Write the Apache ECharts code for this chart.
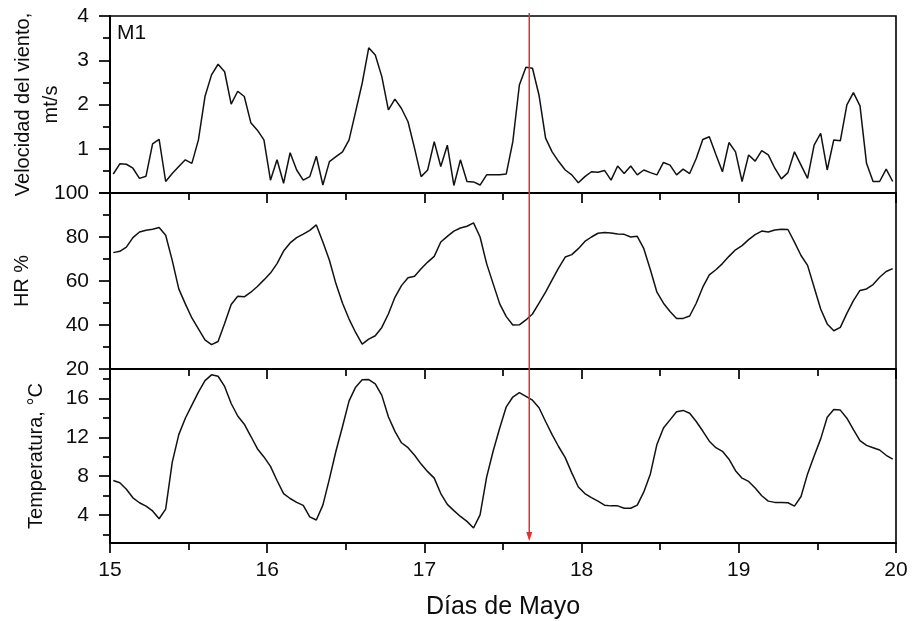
<!DOCTYPE html>
<html><head><meta charset="utf-8">
<script src="https://cdn.jsdelivr.net/npm/echarts@6/dist/echarts.min.js"></script>
<style>html,body{margin:0;padding:0;background:#fff}#c{width:912px;height:621px}</style>
</head><body><div id="c"></div>
<script>
// ---- data ----
const days = [15, 16, 17, 18, 19];
const dayTicks = [15, 16, 17, 18, 19, 20];
const hours = ['00','01','02','03','04','05','06','07','08','09','10','11','12','13','14','15','16','17','18','19','20','21','22','23'];
const timeLabels = [];
days.forEach(d => hours.forEach(h => timeLabels.push(d + ' ' + h + ':30')));

const wind = [0.43,0.66,0.65,0.56,0.33,0.38,1.11,1.21,0.26,0.44,0.60,0.75,0.67,1.20,2.18,2.67,2.91,2.74,2.01,2.30,2.18,1.59,1.42,1.20,
0.29,0.75,0.22,0.91,0.52,0.29,0.37,0.83,0.18,0.71,0.82,0.93,1.20,1.84,2.48,3.28,3.12,2.63,1.88,2.12,1.91,1.61,1.01,0.37,
0.52,1.16,0.60,1.08,0.17,0.75,0.26,0.25,0.18,0.41,0.41,0.41,0.43,1.16,2.44,2.84,2.82,2.21,1.24,0.93,0.71,0.52,0.41,0.23,
0.37,0.48,0.47,0.51,0.29,0.61,0.44,0.61,0.41,0.52,0.46,0.41,0.69,0.63,0.41,0.54,0.44,0.78,1.21,1.27,0.87,0.48,1.14,0.93,
0.26,0.86,0.72,0.96,0.86,0.56,0.32,0.46,0.93,0.63,0.33,1.08,1.35,0.52,1.20,1.18,1.99,2.27,1.97,0.67,0.26,0.26,0.54,0.26];

const humidity = [72.9,73.5,75.4,79.7,82.3,83.1,83.5,84.3,80.8,69.4,56.4,49.6,43.2,38.2,33.2,31.1,32.5,40.7,49.3,53.1,52.8,54.9,57.5,60.5,
63.6,67.9,73.6,77.3,79.7,81.3,83.0,85.5,77.7,69.4,58.7,49.9,42.7,36.6,31.3,33.6,35.1,38.9,45.0,52.6,57.9,61.5,62.2,65.6,
68.6,71.2,77.7,80.3,82.7,84.1,84.9,86.4,80.0,67.9,58.7,49.6,43.8,40.0,40.1,42.3,45.0,49.9,54.9,60.5,66.0,70.9,72.0,74.7,
78.0,80.0,81.7,82.0,81.8,81.4,81.2,80.0,80.3,74.7,65.1,54.9,49.9,46.1,43.0,43.0,44.1,49.9,57.2,62.8,65.1,67.9,71.2,74.2,
76.1,78.8,81.1,82.7,82.3,83.2,83.5,83.4,77.7,71.6,67.1,57.2,47.3,40.5,37.4,38.9,45.3,51.1,55.7,56.4,58.4,61.7,64.3,65.6];

const temperature = [7.55,7.31,6.64,5.76,5.25,4.91,4.41,3.60,4.60,9.41,12.28,13.97,15.32,16.67,17.85,18.45,18.30,17.25,15.49,14.20,13.36,12.11,10.83,9.98,
9.00,7.55,6.20,5.69,5.29,4.98,3.80,3.47,5.01,7.72,10.59,13.12,15.76,17.18,17.93,17.96,17.52,16.33,14.13,12.61,11.44,10.93,10.15,9.24,
8.46,7.79,6.20,5.08,4.44,3.84,3.33,2.65,4.00,7.89,10.59,12.96,15.15,16.16,16.61,16.23,15.83,15.05,13.63,12.28,11.03,9.91,8.33,6.88,
6.20,5.79,5.42,5.00,4.93,4.93,4.68,4.68,5.01,6.37,8.23,11.27,12.96,13.80,14.64,14.78,14.48,13.63,12.65,11.60,10.93,10.56,9.75,8.56,
7.79,7.45,6.78,5.97,5.42,5.29,5.29,5.25,4.90,5.90,8.23,10.08,11.84,14.07,14.88,14.81,13.97,12.79,11.67,11.17,10.93,10.69,10.15,9.75];

const tempMajorTicks = [4, 8, 12, 16];
const tempMinorTicks = [2, 6, 10, 14, 18];
const markerDay = 17.667;
const panelLabel = 'M1';
const yNames = ['Velocidad del viento,\nmt/s', 'HR %', 'Temperatura, °C'];
const xName = 'Días de Mayo';

// ---- chart ----
const FONT = '"Liberation Sans", Arial, sans-serif';
const chart = echarts.init(document.getElementById('c'), null, {renderer: 'canvas'});
const gridBase = {left: 110, right: 16, show: true, borderColor: '#000', borderWidth: 1.6, backgroundColor: 'transparent'};
const tickStyle = {color: '#000', width: 1.7};
const labelStyle = {color: '#0d0d0d', fontFamily: FONT, fontSize: 21};

function valueX(i) {
  return {
    type: 'value', gridIndex: i, min: 15, max: 20, interval: 1, position: 'bottom',
    axisLine: {show: true, onZero: false, lineStyle: {color: '#000', width: 2}},
    axisTick: {show: true, length: 10, lineStyle: tickStyle},
    minorTick: {show: true, splitNumber: 2, length: 7, lineStyle: tickStyle},
    splitLine: {show: false}, minorSplitLine: {show: false},
    axisLabel: Object.assign({show: i === 2, margin: 17, formatter: v => (dayTicks.indexOf(v) >= 0 ? String(v) : '')}, labelStyle),
    name: i === 2 ? xName : '', nameLocation: 'middle', nameGap: 52,
    nameTextStyle: {color: '#0d0d0d', fontFamily: FONT, fontSize: 25}
  };
}
function catX(i) {
  return {type: 'category', gridIndex: i, data: timeLabels, boundaryGap: true, show: false};
}
const yCommon = {
  axisLine: {show: true, onZero: false, lineStyle: {color: '#000', width: 2}},
  axisTick: {show: true, length: 11, lineStyle: tickStyle},
  splitLine: {show: false}, minorSplitLine: {show: false},
  nameLocation: 'middle', nameRotate: 90,
  nameTextStyle: {color: '#0d0d0d', fontFamily: FONT, fontSize: 20, lineHeight: 28}
};

const option = {
  animation: false,
  backgroundColor: '#fff',
  grid: [
    Object.assign({top: 16, height: 177}, gridBase),
    Object.assign({top: 193, height: 176}, gridBase),
    Object.assign({top: 369, height: 176}, gridBase)
  ],
  xAxis: [catX(0), catX(1), catX(2), valueX(0), valueX(1), valueX(2)],
  yAxis: [
    Object.assign({}, yCommon, {type: 'value', gridIndex: 0, min: 0, max: 4, interval: 1,
      minorTick: {show: true, splitNumber: 2, length: 7, lineStyle: tickStyle},
      axisLabel: Object.assign({margin: 21, showMinLabel: false}, labelStyle),
      name: yNames[0], nameGap: 45}),
    Object.assign({}, yCommon, {type: 'value', gridIndex: 1, min: 20, max: 100, interval: 20,
      minorTick: {show: true, splitNumber: 2, length: 7, lineStyle: tickStyle},
      axisLabel: Object.assign({margin: 21}, labelStyle),
      name: yNames[1], nameGap: 74}),
    Object.assign({}, yCommon, {type: 'value', gridIndex: 2, min: 1.1, max: 19.05,
      axisTick: {show: true, length: 11, lineStyle: tickStyle, customValues: tempMajorTicks},
      axisLabel: Object.assign({margin: 21, customValues: tempMajorTicks}, labelStyle),
      name: yNames[2], nameGap: 60}),
    {type: 'value', gridIndex: 2, min: 1.1, max: 19.05, position: 'left',
      axisLine: {show: false}, splitLine: {show: false}, axisLabel: {show: false},
      axisTick: {show: true, length: 7, lineStyle: tickStyle, customValues: tempMinorTicks}}
  ],
  series: [
    {type: 'line', xAxisIndex: 0, yAxisIndex: 0, data: wind, showSymbol: false, lineStyle: {color: '#111', width: 1.5}},
    {type: 'line', xAxisIndex: 1, yAxisIndex: 1, data: humidity, showSymbol: false, lineStyle: {color: '#111', width: 1.5}},
    {type: 'line', xAxisIndex: 2, yAxisIndex: 2, data: temperature, showSymbol: false, lineStyle: {color: '#111', width: 1.5}}
  ],
  graphic: [
    {id: 'm1', type: 'text', left: 117, top: 23, style: {text: panelLabel, fill: '#0d0d0d', font: '21px ' + FONT}}
  ]
};
chart.setOption(option);

const xr = chart.convertToPixel({xAxisIndex: 3}, markerDay);
chart.setOption({
  graphic: [
    {id: 'm1', type: 'text', left: 117, top: 23, style: {text: panelLabel, fill: '#0d0d0d', font: '21px ' + FONT}},
    {id: 'redLine', type: 'line', shape: {x1: xr, y1: 13, x2: xr, y2: 535}, style: {stroke: '#e2302b', lineWidth: 1.5}, z: 100},
    {id: 'redHead', type: 'polygon', shape: {points: [[xr - 3, 532], [xr + 3, 532], [xr, 541]]}, style: {fill: '#e2302b'}, z: 100}
  ]
});
</script>
</body></html>
